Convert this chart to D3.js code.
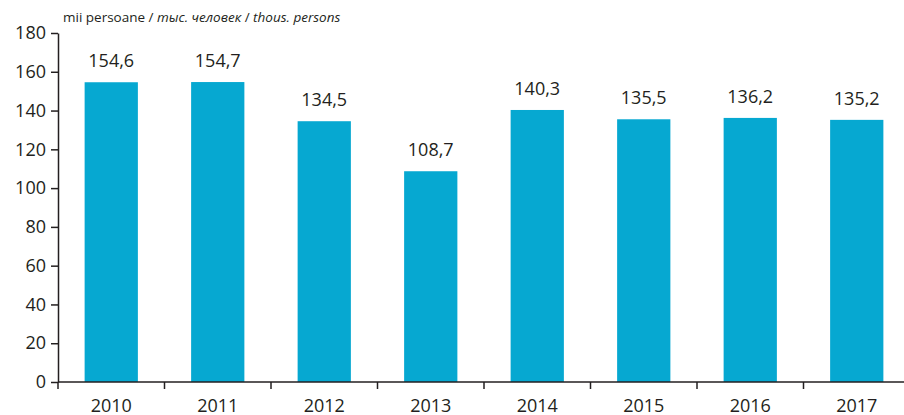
<!DOCTYPE html>
<html>
<head>
<meta charset="utf-8">
<script src="https://cdn.jsdelivr.net/npm/d3@7"></script>
<style>
  body { margin: 0; background: #fff; }
  text { font-family: "Open Sans", "Noto Sans", sans-serif; fill: #231f20; }
</style>
</head>
<body>
<div id="chart"></div>
<script>
// data
var years  = ["2010", "2011", "2012", "2013", "2014", "2015", "2016", "2017"];
var values = [154.6, 154.7, 134.5, 108.7, 140.3, 135.5, 136.2, 135.2];
var yTicks = [0, 20, 40, 60, 80, 100, 120, 140, 160, 180];

var W = 904, H = 415;
var m = { left: 58, right: 910, top: 33, bottom: 382 };

var svg = d3.select("#chart").append("svg")
  .attr("width", W).attr("height", H);

var x = d3.scaleBand().domain(years).range([m.left, m.right]).paddingInner(0.5).paddingOuter(0.25);
var xb = d3.scaleBand().domain(years).range([m.left, m.right]);
var y = d3.scaleLinear().domain([0, 180]).range([m.bottom, m.top]);

var fmt = v => d3.format(".1f")(v).replace(".", ",");

// bars
svg.selectAll(".bar").data(years).enter().append("rect")
  .attr("class", "bar")
  .attr("x", d => x(d))
  .attr("width", x.bandwidth())
  .attr("y", (d, i) => y(values[i]))
  .attr("height", (d, i) => y(0) - y(values[i]))
  .attr("fill", "#06a8d1");

// value labels
svg.selectAll(".lbl").data(years).enter().append("text")
  .attr("x", d => x(d) + x.bandwidth() / 2)
  .attr("y", (d, i) => y(values[i]) - 15)
  .attr("text-anchor", "middle")
  .style("font-size", "18px")
  .text((d, i) => fmt(values[i]));

// y axis
var yAxis = svg.append("g")
  .attr("transform", `translate(${m.left},0)`)
  .call(d3.axisLeft(y).tickValues(yTicks).tickSize(7).tickSizeOuter(0).tickPadding(5));
yAxis.selectAll("text").style("font-size", "18px");

// x axis: ticks at band edges
var xAxis = svg.append("g").attr("transform", `translate(0,${m.bottom})`);
xAxis.append("line").attr("x1", m.left).attr("x2", W).attr("y1", 0).attr("y2", 0);
xAxis.selectAll(".tk").data(years).enter().append("line")
  .attr("x1", d => xb(d)).attr("x2", d => xb(d))
  .attr("y1", 0).attr("y2", 7);
xAxis.selectAll(".xl").data(years).enter().append("text")
  .attr("x", d => xb(d) + xb.bandwidth() / 2)
  .attr("y", 30)
  .attr("text-anchor", "middle")
  .style("font-size", "18px")
  .text(d => d);

svg.selectAll(".domain").attr("stroke", "#231f20").attr("stroke-width", 1.5);
svg.selectAll("g line").attr("stroke", "#231f20").attr("stroke-width", 1.5);

// unit title
var t = svg.append("text").attr("x", 63).attr("y", 22).style("font-size", "13.5px");
t.append("tspan").text("mii persoane / ");
t.append("tspan").style("font-style", "italic").text("тыс. человек");
t.append("tspan").text(" / ");
t.append("tspan").style("font-style", "italic").text("thous. persons");
</script>
</body>
</html>
